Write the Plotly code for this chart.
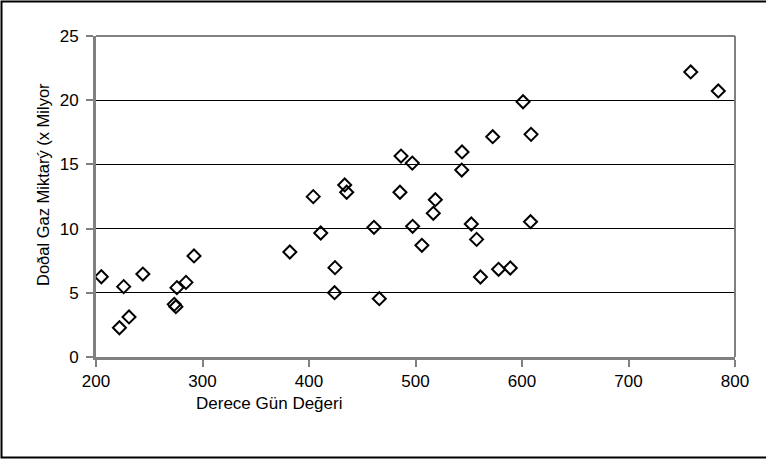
import plotly.graph_objects as go

# Data
degree_days = [205, 226, 222, 231, 244, 273.5, 275, 276, 284.5, 292,
               382, 404, 411, 424.4, 424, 433.5, 435.4, 461, 466, 485.4,
               486.4, 497, 497.3, 506, 516.7, 518.6, 543.4, 543.7, 552.4, 557.4,
               561, 572.5, 578, 589, 601, 608.5, 608, 758.4, 784.3]
gas_amount = [6.25, 5.48, 2.28, 3.12, 6.46, 4.10, 3.92, 5.40, 5.81, 7.87,
              8.18, 12.49, 9.66, 6.96, 5.01, 13.40, 12.83, 10.10, 4.54, 12.83,
              15.65, 15.10, 10.18, 8.70, 11.19, 12.25, 14.56, 15.97, 10.36, 9.16,
              6.23, 17.16, 6.83, 6.93, 19.88, 17.34, 10.54, 22.20, 20.72]
x_ticks = [200, 300, 400, 500, 600, 700, 800]
y_ticks = [0, 5, 10, 15, 20, 25]
x_title = "Derece Gün Değeri"
y_title = "Doðal Gaz Miktarý (x Milyor"

W, H = 766, 460
L, R, T, B = 96, 735, 36, 357

def px(x):
    return (x - L) / (R - L)

def py(y):
    return (B - y) / (B - T)

fig = go.Figure()
fig.add_trace(go.Scatter(
    x=degree_days, y=gas_amount, mode="markers",
    marker=dict(symbol="diamond-open", size=10, color="black",
                line=dict(color="black", width=2)),
    showlegend=False, hoverinfo="x+y"))

fam = "Liberation Sans, Arial, sans-serif"
font = dict(family=fam, size=17, color="black")
yfont = dict(family=fam, size=16.5, color="black")

fig.update_layout(
    width=W, height=H,
    margin=dict(l=L, r=W - R, t=T, b=H - B, pad=0),
    paper_bgcolor="white", plot_bgcolor="white",
    font=font,
    xaxis=dict(range=[200, 800], tickvals=x_ticks, ticks="outside", ticklen=7,
               tickwidth=2, tickcolor="#808080", showgrid=False, zeroline=False,
               showline=True, linecolor="#808080", linewidth=3,
               tickfont=font),
    yaxis=dict(range=[0, 25], tickvals=y_ticks, ticks="outside", ticklen=7,
               tickwidth=2, tickcolor="#808080", showgrid=True, gridcolor="black",
               gridwidth=1, zeroline=False, showline=True, linecolor="#808080",
               linewidth=3, tickfont=font, ticklabelstandoff=4),
    shapes=[
        # top and right plot frame
        dict(type="line", xref="paper", yref="paper", x0=0, x1=1, y0=1, y1=1,
             line=dict(color="#808080", width=2)),
        dict(type="line", xref="paper", yref="paper", x0=1, x1=1, y0=0, y1=1,
             line=dict(color="#808080", width=2)),
        # outer chart border (right side runs off the page)
        dict(type="rect", xref="paper", yref="paper",
             x0=px(1.5), x1=px(775), y0=py(457.5), y1=py(1.5),
             line=dict(color="black", width=2), fillcolor="rgba(0,0,0,0)"),
    ],
    annotations=[
        dict(text=x_title, xref="paper", yref="paper", x=px(269), y=py(404),
             showarrow=False, font=font, xanchor="center", yanchor="middle"),
        dict(text=y_title, xref="paper", yref="paper", x=px(43), y=py(185),
             showarrow=False, font=yfont, textangle=-90,
             xanchor="center", yanchor="middle"),
    ],
)

fig.write_html("out.html")
